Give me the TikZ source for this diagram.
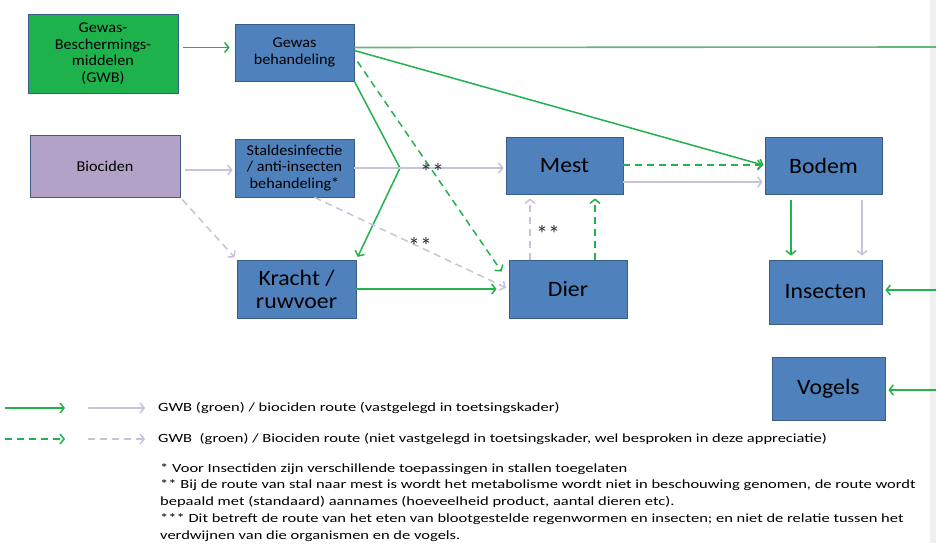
\documentclass[tikz,border=0pt]{standalone}
\usepackage{fontspec}
\setmainfont{Carlito}
\newfontfamily\boxfont[FakeStretch=1.08]{Carlito}
\newfontfamily\notefont[FakeStretch=1.32]{Carlito}
\usetikzlibrary{arrows.meta}
\definecolor{boxblue}{RGB}{79,129,189}
\definecolor{boxedge}{RGB}{58,92,135}
\definecolor{boxgreen}{RGB}{30,178,76}
\definecolor{boxpurple}{RGB}{179,162,199}
\definecolor{routegreen}{RGB}{34,177,76}
\definecolor{routegray}{RGB}{200,195,215}
\definecolor{stripgray}{RGB}{240,240,240}
\begin{document}
\begin{tikzpicture}
    [x=1pt, y=-1pt, >={Straight Barb[length=4pt,width=10pt]},
    BlueNode/.style={rectangle, draw=boxedge, fill=boxblue, line width=0.8pt, inner sep=0pt, align=center},
    GreenNode/.style={BlueNode, fill=boxgreen},
    PurpleNode/.style={BlueNode, fill=boxpurple},
    SmallText/.style={font=\boxfont\fontsize{15}{16.5}\selectfont},
    BigText/.style={font=\boxfont\fontsize{22}{23}\selectfont},
    GreenArrow/.style={->, draw=routegreen, line width=1.5pt},
    GrayArrow/.style={->, draw=routegray, line width=1.5pt},
    GreenDash/.style={GreenArrow, dash pattern=on 7pt off 5pt},
    GrayDash/.style={GrayArrow, dash pattern=on 7pt off 5pt},
    StarLabel/.style={font=\fontsize{24}{24}\selectfont, text=black!80, inner sep=1pt},
    NoteText/.style={font=\notefont\fontsize{12.5}{16.8}\selectfont, inner sep=0pt, align=left}]
     \useasboundingbox (0,0) rectangle (936,543);
     \fill[stripgray] (930,0) rectangle (936,543);
     % boxes
     \node[GreenNode, SmallText, minimum width=150pt, minimum height=79pt] (Gwb) at (103,53.5){Gewas-\\Beschermings-\\middelen\\(GWB)};
     \node[BlueNode, SmallText, minimum width=119pt, minimum height=57pt] (Gewas) at (294.5,52.5){Gewas\\behandeling};
     \node[PurpleNode, SmallText, minimum width=150pt, minimum height=62pt] (Biociden) at (105,166){Biociden};
     \node[BlueNode, SmallText, minimum width=119pt, minimum height=58pt] (Stal) at (294.5,168){Staldesinfectie\\/ anti-insecten\\behandeling*};
     \node[BlueNode, BigText, minimum width=119pt, minimum height=58pt] (Kracht) at (296.5,289){Kracht /\\ruwvoer};
     \node[BlueNode, BigText, minimum width=117pt, minimum height=57pt] (Mest) at (564.5,165.5){Mest};
     \node[BlueNode, BigText, minimum width=118pt, minimum height=58pt] (Dier) at (568,289){Dier};
     \node[BlueNode, BigText, minimum width=117pt, minimum height=57pt] (Bodem) at (823.5,165.5){Bodem};
     \node[BlueNode, BigText, minimum width=113pt, minimum height=64pt] (Insecten) at (825.5,292){Insecten};
     \node[BlueNode, BigText, minimum width=113pt, minimum height=63pt] (Vogels) at (828.5,388.5){Vogels};
     \coordinate (EdgeTop) at (936,47);
     \coordinate (EdgeIns) at (936,290);
     \coordinate (EdgeVog) at (936,390);
     \coordinate (Bend) at (400,168);
     % routes
     \draw[GreenArrow, shorten <=5pt, shorten >=5pt] ([yshift=6pt]Gwb.east) -- ([yshift=6pt]Gwb.east -| Gewas.west);
     \draw[GrayArrow, shorten <=5pt, shorten >=2pt] ([yshift=-4pt]Biociden.east) -- ([yshift=-4pt]Biociden.east -| Stal.west);
     \draw[draw=routegreen!70!gray!80, line width=1.6pt] ([yshift=5pt]Gewas.east) -- (EdgeTop);
     \draw[GreenArrow, shorten >=1pt] ([yshift=2pt]Gewas.east) -- (Bodem.west);
     \draw[GreenArrow, shorten >=3pt] (Gewas.south east) -- (Bend) -- (Kracht.north east);
     \draw[GreenDash] ([xshift=3pt,yshift=-9pt]Gewas.east) -- ([xshift=-7pt,yshift=-12pt]Dier.north west);
     \draw[GrayArrow, shorten >=2pt] (Stal.east) -- (Stal.east -| Mest.west);
     \draw[GrayDash, shorten >=3pt] ([xshift=20pt]Stal.south) -- (Dier.west);
     \draw[GrayDash, shorten <=3pt, shorten >=3pt] (Biociden.south east) -- (Kracht.north west);
     \draw[GreenArrow, shorten >=12pt] (Kracht.east) -- (Kracht.east -| Dier.west);
     \draw[GrayDash, shorten >=4pt] ([xshift=-38pt]Dier.north) -- ([xshift=-38pt]Dier.north |- Mest.south);
     \draw[GreenDash, shorten >=4pt] ([xshift=27pt]Dier.north) -- ([xshift=27pt]Dier.north |- Mest.south);
     \draw[GreenDash, shorten >=2pt] ([yshift=0.5pt]Mest.east) -- ([yshift=0.5pt]Bodem.west);
     \draw[GrayArrow, shorten >=2pt] ([yshift=-16.5pt]Mest.east) -- ([yshift=-16.5pt]Mest.east -| Bodem.west);
     \draw[GreenArrow, shorten <=6pt, shorten >=4pt] ([xshift=-32.5pt]Bodem.south) -- ([xshift=-32.5pt]Bodem.south |- Insecten.north);
     \draw[GrayArrow, shorten <=6pt, shorten >=4pt] ([xshift=38.5pt]Bodem.south) -- ([xshift=38.5pt]Bodem.south |- Insecten.north);
     \draw[GreenArrow, shorten >=3pt] (EdgeIns) -- (EdgeIns -| Insecten.east);
     \draw[GreenArrow, shorten >=3pt] (EdgeVog) -- (EdgeVog -| Vogels.east);
     \node[StarLabel] (StalMestLabel) at (432,172){**};
     \node[StarLabel] (StalDierLabel) at (420,246){**};
     \node[StarLabel] (DierMestLabel) at (548,234){**};
     % legend
     \coordinate (LegGreenA) at (5,408);
     \coordinate (LegGreenB) at (65,408);
     \coordinate (LegGrayA) at (88,408);
     \coordinate (LegGrayB) at (145,408);
     \coordinate (LegGreenC) at (5,439);
     \coordinate (LegGreenD) at (65,439);
     \coordinate (LegGrayC) at (88,439);
     \coordinate (LegGrayD) at (145,439);
     \draw[GreenArrow] (LegGreenA) -- (LegGreenB);
     \draw[GrayArrow] (LegGrayA) -- (LegGrayB);
     \draw[GreenDash] (LegGreenC) -- (LegGreenD);
     \draw[GrayDash] (LegGrayC) -- (LegGrayD);
     \node[NoteText, anchor=west] (SolidLabel) at (158,408){GWB (groen) / biociden route (vastgelegd in toetsingskader)};
     \node[NoteText, anchor=west] (DashLabel) at (158,439){GWB \ (groen) / Biociden route (niet vastgelegd in toetsingskader, wel besproken in deze appreciatie)};
     \node[NoteText, anchor=north west] (NoteLabel) at (160,463){* Voor Insectiden zijn verschillende toepassingen in stallen toegelaten\\
       ** Bij de route van stal naar mest is wordt het metabolisme wordt niet in beschouwing genomen, de route wordt\\
       bepaald met (standaard) aannames (hoeveelheid product, aantal dieren etc).\\
       *** Dit betreft de route van het eten van blootgestelde regenwormen en insecten; en niet de relatie tussen het\\
       verdwijnen van die organismen en de vogels.};
\end{tikzpicture}
\end{document}
